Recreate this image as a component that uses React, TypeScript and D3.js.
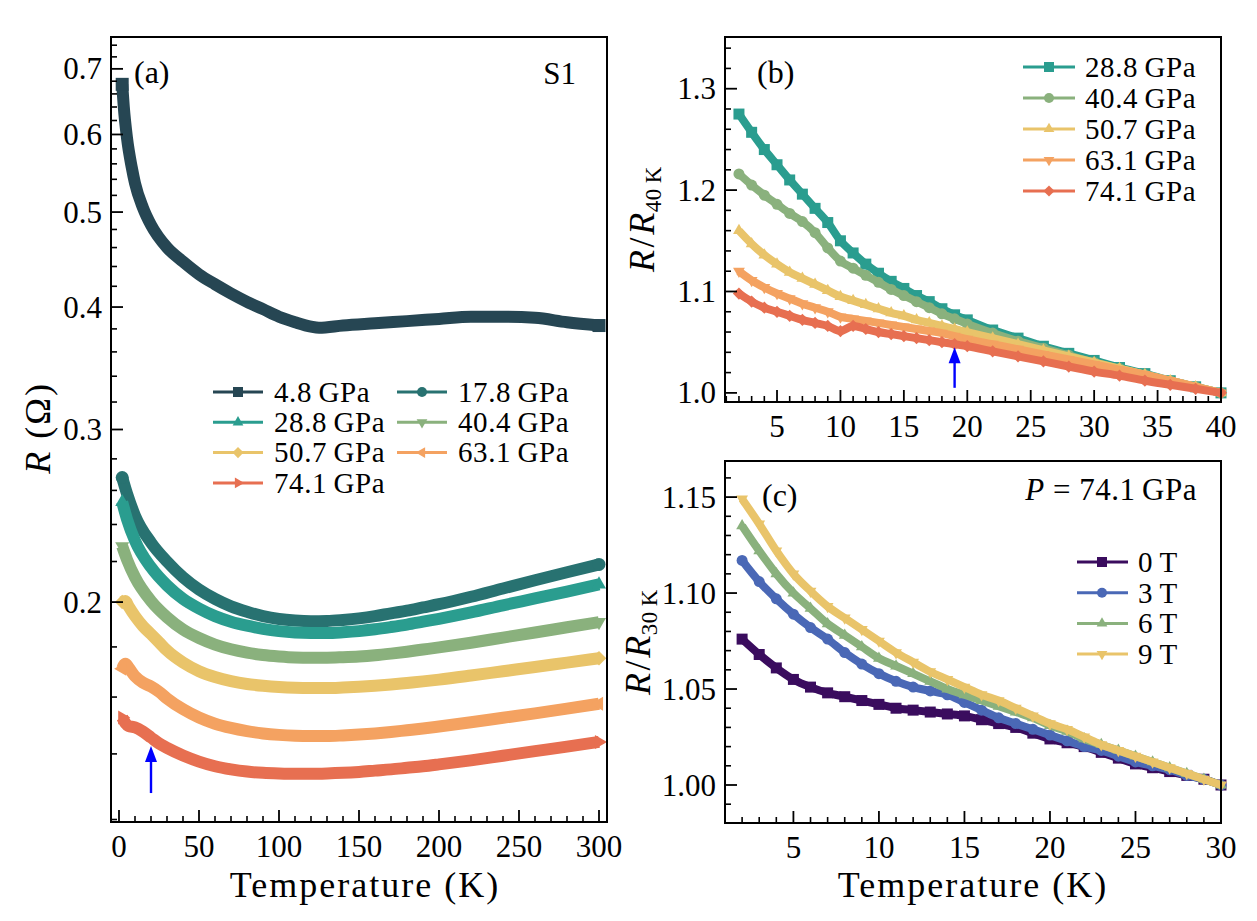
import React from "react";
import * as d3 from "d3";

// ---------- DATA ----------
// Panel (a): R (Ohm) vs T (K)
const tA1 = [2, 3, 5, 8, 10, 15, 20, 30, 40, 50, 60, 70, 80, 90, 100, 110, 120, 125, 140, 160, 180, 200, 220, 240, 260, 280, 300];
const r48 = [0.675, 0.64, 0.595, 0.555, 0.535, 0.505, 0.485, 0.46, 0.445, 0.432, 0.422, 0.413, 0.405, 0.398, 0.391, 0.386, 0.382, 0.381, 0.383, 0.385, 0.387, 0.389, 0.391, 0.391, 0.39, 0.386, 0.383];
const tA2 = [2, 5, 10, 20, 30, 40, 50, 60, 70, 80, 90, 100, 110, 120, 130, 140, 150, 160, 170, 180, 190, 200, 220, 240, 260, 280, 300];
const r178 = [0.268, 0.258, 0.245, 0.23, 0.22, 0.212, 0.206, 0.2015, 0.198, 0.1955, 0.1935, 0.1922, 0.1915, 0.1912, 0.1913, 0.1918, 0.1925, 0.1935, 0.1948, 0.196, 0.1975, 0.199, 0.2025, 0.2065, 0.2105, 0.2145, 0.2185];
const r288 = [0.253, 0.243, 0.231, 0.217, 0.208, 0.2015, 0.197, 0.1935, 0.191, 0.1892, 0.1878, 0.1868, 0.1862, 0.186, 0.186, 0.1863, 0.1868, 0.1876, 0.1886, 0.1897, 0.191, 0.1923, 0.1952, 0.1985, 0.2017, 0.205, 0.2085];
const r404 = [0.228, 0.221, 0.212, 0.2005, 0.193, 0.1875, 0.1838, 0.181, 0.179, 0.1776, 0.1766, 0.176, 0.1756, 0.1755, 0.1755, 0.1757, 0.176, 0.1765, 0.1772, 0.178, 0.1789, 0.1798, 0.1818, 0.184, 0.1862, 0.1885, 0.1908];
const tA3 = [2, 4, 6, 10, 15, 20, 25, 30, 40, 50, 60, 70, 80, 90, 100, 110, 120, 130, 140, 150, 160, 170, 180, 190, 200, 220, 240, 260, 280, 300];
const r507 = [0.2, 0.2005, 0.198, 0.1935, 0.189, 0.1855, 0.182, 0.1785, 0.1735, 0.17, 0.1677, 0.1661, 0.165, 0.1643, 0.1638, 0.1635, 0.1634, 0.1634, 0.1636, 0.1639, 0.1643, 0.1648, 0.1654, 0.166, 0.1667, 0.1683, 0.17, 0.1717, 0.1735, 0.1753];
const r631 = [0.171, 0.173, 0.1715, 0.168, 0.1655, 0.164, 0.162, 0.1595, 0.1555, 0.1525, 0.1503, 0.1488, 0.1477, 0.1469, 0.1464, 0.1461, 0.146, 0.146, 0.1462, 0.1465, 0.1469, 0.1474, 0.148, 0.1486, 0.1493, 0.1508, 0.1524, 0.154, 0.1557, 0.1575];
const r741 = [0.1525, 0.1505, 0.1495, 0.149, 0.1475, 0.1455, 0.1435, 0.142, 0.1395, 0.1375, 0.136, 0.135, 0.1343, 0.1339, 0.1337, 0.1336, 0.1336, 0.1337, 0.1339, 0.1342, 0.1346, 0.135, 0.1355, 0.136, 0.1366, 0.1379, 0.1394, 0.1409, 0.1424, 0.144];

// Panel (b): R/R40K
const tB = [2, 3, 4, 5, 6, 7, 8, 9, 10, 11, 12, 13, 14, 15, 16, 17, 18, 19, 20, 22, 24, 26, 28, 30, 32, 34, 36, 38, 40];
const b288 = [1.275, 1.257, 1.24, 1.225, 1.21, 1.196, 1.182, 1.168, 1.15, 1.138, 1.127, 1.118, 1.11, 1.103, 1.096, 1.09, 1.083, 1.077, 1.072, 1.062, 1.054, 1.046, 1.039, 1.032, 1.025, 1.019, 1.012, 1.006, 1.0];
const b404 = [1.216, 1.205, 1.195, 1.186, 1.177, 1.169, 1.158, 1.143, 1.13, 1.123, 1.116, 1.109, 1.102, 1.096, 1.09, 1.084, 1.078, 1.073, 1.068, 1.059, 1.051, 1.044, 1.037, 1.03, 1.024, 1.018, 1.012, 1.006, 1.0];
const b507 = [1.16, 1.147, 1.136, 1.127, 1.119, 1.113, 1.107, 1.101, 1.095, 1.091, 1.087, 1.083, 1.079, 1.076, 1.072, 1.069, 1.066, 1.063, 1.06, 1.054, 1.048, 1.042, 1.036, 1.03, 1.024, 1.018, 1.012, 1.006, 1.0];
const b631 = [1.12, 1.111, 1.104, 1.098, 1.093, 1.088, 1.084, 1.08, 1.075, 1.073, 1.071, 1.069, 1.067, 1.065, 1.063, 1.061, 1.059, 1.056, 1.053, 1.048, 1.043, 1.038, 1.033, 1.028, 1.023, 1.018, 1.012, 1.006, 1.0];
const b741 = [1.098, 1.09, 1.084, 1.08, 1.076, 1.072, 1.069, 1.066, 1.061, 1.066, 1.063, 1.06, 1.058, 1.056, 1.054, 1.052, 1.05, 1.048, 1.046, 1.041, 1.036, 1.031, 1.026, 1.021, 1.017, 1.012, 1.008, 1.004, 1.0];

// Panel (c): R/R30K at 74.1 GPa
const tC = [2, 3, 4, 5, 6, 7, 8, 9, 10, 11, 12, 13, 14, 15, 16, 17, 18, 19, 20, 21, 22, 23, 24, 25, 26, 27, 28, 29, 30];
const c0 = [1.076, 1.068, 1.061, 1.055, 1.051, 1.048, 1.046, 1.044, 1.042, 1.04, 1.039, 1.038, 1.037, 1.036, 1.034, 1.032, 1.03, 1.027, 1.024, 1.022, 1.02, 1.017, 1.014, 1.011, 1.009, 1.007, 1.005, 1.003, 1.0];
const c3 = [1.117, 1.106, 1.097, 1.089, 1.082, 1.076, 1.069, 1.063, 1.058, 1.054, 1.051, 1.049, 1.047, 1.043, 1.039, 1.035, 1.032, 1.029, 1.026, 1.023, 1.02, 1.018, 1.015, 1.012, 1.01, 1.008, 1.005, 1.003, 1.0];
const c6 = [1.135, 1.122, 1.11, 1.1, 1.092, 1.084, 1.078, 1.072, 1.066, 1.062, 1.058, 1.054, 1.05, 1.047, 1.044, 1.041, 1.038, 1.035, 1.031, 1.028, 1.024, 1.021, 1.018, 1.015, 1.012, 1.009, 1.006, 1.003, 1.0];
const c9 = [1.149, 1.136, 1.122, 1.11, 1.101, 1.093, 1.087, 1.081, 1.075, 1.069, 1.064, 1.059, 1.055, 1.051, 1.047, 1.044, 1.04, 1.036, 1.032, 1.029, 1.025, 1.021, 1.018, 1.015, 1.012, 1.009, 1.006, 1.003, 1.0];

const labelsA = ["4.8", "17.8", "28.8", "40.4", "50.7", "63.1", "74.1"];
const labelsB = ["28.8", "40.4", "50.7", "63.1", "74.1"];
const labelsC = ["0", "3", "6", "9"];

const xTicksA = [0, 50, 100, 150, 200, 250, 300];
const yTicksA = [0.2, 0.3, 0.4, 0.5, 0.6, 0.7];
const xTicksB = [5, 10, 15, 20, 25, 30, 35, 40];
const yTicksB = [1.0, 1.1, 1.2, 1.3];
const xTicksC = [5, 10, 15, 20, 25, 30];
const yTicksC = [1.0, 1.05, 1.1, 1.15];

// ---------- STYLE ----------
const FONT = "'Liberation Serif','Times New Roman',serif";
const TICK_FS = 31;
const LAB_FS = 36;
const LEG_FS = 29;
const C = {
  p48: "#264653", p178: "#287271", p288: "#2a9d8f", p404: "#8ab17d",
  p507: "#e9c46a", p631: "#f4a261", p741: "#e76f51",
  t0: "#3a0c5e", t3: "#4a68b6",
};

type Mk = "square" | "circle" | "triUp" | "triDown" | "diamond" | "triLeft" | "triRight";

function markerPath(kind: Mk, s: number): [string, number] {
  switch (kind) {
    case "square": return [d3.symbol(d3.symbolSquare, s * s)()!, 0];
    case "circle": return [d3.symbol(d3.symbolCircle, Math.PI * (s / 2) * (s / 2))()!, 0];
    case "diamond": return [d3.symbol(d3.symbolSquare, s * s * 0.62)()!, 45];
    case "triUp": return [d3.symbol(d3.symbolTriangle, s * s * 0.5)()!, 0];
    case "triDown": return [d3.symbol(d3.symbolTriangle, s * s * 0.5)()!, 180];
    case "triLeft": return [d3.symbol(d3.symbolTriangle, s * s * 0.5)()!, -90];
    case "triRight": return [d3.symbol(d3.symbolTriangle, s * s * 0.5)()!, 90];
  }
}

function Marker({ kind, x, y, s, color }: { kind: Mk; x: number; y: number; s: number; color: string }) {
  const [d, rot] = markerPath(kind, s);
  return <path d={d} transform={`translate(${x},${y}) rotate(${rot})`} fill={color} stroke="none" />;
}

function range(a: number, b: number, step: number) {
  const out: number[] = [];
  for (let v = a; v <= b + 1e-9; v += step) out.push(Math.round(v * 1000) / 1000);
  return out;
}

function Axes({ x, y, xMajor, xMinor, yMajor, yMinor, yFmt }: any) {
  const [l, r] = x.range();
  const [b, t] = y.range();
  const MAJ = 12, MIN = 6;
  return (
    <g>
      <rect x={l} y={t} width={r - l} height={b - t} fill="none" stroke="#000" strokeWidth={2} />
      {xMinor.map((v: number, i: number) => (
        <line key={"xm" + i} x1={x(v)} x2={x(v)} y1={b} y2={b - MIN} stroke="#000" strokeWidth={1.6} />
      ))}
      {xMajor.map((v: number, i: number) => (
        <g key={"xM" + i}>
          <line x1={x(v)} x2={x(v)} y1={b} y2={b - MAJ} stroke="#000" strokeWidth={1.8} />
          <text x={x(v)} y={b + 35} textAnchor="middle" fontSize={TICK_FS} fontFamily={FONT}>{v}</text>
        </g>
      ))}
      {yMinor.map((v: number, i: number) => (
        <line key={"ym" + i} x1={l} x2={l + MIN} y1={y(v)} y2={y(v)} stroke="#000" strokeWidth={1.6} />
      ))}
      {yMajor.map((v: number, i: number) => (
        <g key={"yM" + i}>
          <line x1={l} x2={l + MAJ} y1={y(v)} y2={y(v)} stroke="#000" strokeWidth={1.8} />
          <text x={l - 9} y={y(v)} dy="0.34em" textAnchor="end" fontSize={TICK_FS} fontFamily={FONT}>{yFmt(v)}</text>
        </g>
      ))}
    </g>
  );
}

function Arrow({ x, y1, y2 }: { x: number; y1: number; y2: number }) {
  const hl = 16, hw = 6;
  return (
    <g>
      <line x1={x} x2={x} y1={y1} y2={y2 + hl - 2} stroke="#0000ff" strokeWidth={2.4} />
      <path d={`M${x},${y2} L${x - hw},${y2 + hl} L${x + hw},${y2 + hl} Z`} fill="#0000ff" />
    </g>
  );
}

function RatioLabel({ x, y, sub }: { x: number; y: number; sub: string }) {
  return (
    <text transform={`translate(${x},${y}) rotate(-90)`} textAnchor="middle" fontSize={LAB_FS} fontFamily={FONT} letterSpacing={0.5}>
      <tspan fontStyle="italic">R</tspan>
      <tspan dx={2}>/</tspan>
      <tspan fontStyle="italic" dx={2}>R</tspan>
      <tspan fontSize={23} dy={7}>{sub}{"\u2009"}K</tspan>
    </text>
  );
}

export default function App() {
  // scales
  const xA = d3.scaleLinear().domain([-5, 305]).range([111, 607]);
  const yA = d3.scaleLog().domain([0.1193, 0.7544]).range([822, 37]);
  const xB = d3.scaleLinear().domain([0.9, 40]).range([725, 1221]);
  const yB = d3.scaleLinear().domain([0.991, 1.351]).range([402, 37]);
  const xC = d3.scaleLinear().domain([1, 30]).range([725, 1221]);
  const yC = d3.scaleLinear().domain([0.9802, 1.1688]).range([823, 461]);

  const seriesA = [
    { t: tA1, v: r48, c: C.p48, m: "square" as Mk },
    { t: tA2, v: r178, c: C.p178, m: "circle" as Mk },
    { t: tA2, v: r288, c: C.p288, m: "triUp" as Mk },
    { t: tA2, v: r404, c: C.p404, m: "triDown" as Mk },
    { t: tA3, v: r507, c: C.p507, m: "diamond" as Mk },
    { t: tA3, v: r631, c: C.p631, m: "triLeft" as Mk },
    { t: tA3, v: r741, c: C.p741, m: "triRight" as Mk },
  ];
  const seriesB = [
    { v: b288, c: C.p288, m: "square" as Mk },
    { v: b404, c: C.p404, m: "circle" as Mk },
    { v: b507, c: C.p507, m: "triUp" as Mk },
    { v: b631, c: C.p631, m: "triDown" as Mk },
    { v: b741, c: C.p741, m: "diamond" as Mk },
  ];
  const seriesC = [
    { v: c0, c: C.t0, m: "square" as Mk },
    { v: c3, c: C.t3, m: "circle" as Mk },
    { v: c6, c: C.p404, m: "triUp" as Mk },
    { v: c9, c: C.p507, m: "triDown" as Mk },
  ];

  const lineA = (t: number[], v: number[]) =>
    d3.line<number>().x((_, i) => xA(t[i])).y((d) => yA(d)).curve(d3.curveMonotoneX)(v)!;
  const lineB = d3.line<number>().x((_, i) => xB(tB[i])).y((d) => yB(d)).curve(d3.curveMonotoneX);
  const lineC = d3.line<number>().x((_, i) => xC(tC[i])).y((d) => yC(d)).curve(d3.curveMonotoneX);

  const minorA = range(0.12, 0.74, 0.02).filter((v) => !yTicksA.some((m) => Math.abs(m - v) < 1e-6));
  const minorB = range(1.0, 1.34, 0.02).filter((v) => !yTicksB.some((m) => Math.abs(m - v) < 1e-6));
  const minorC = range(0.99, 1.16, 0.01).filter((v) => !yTicksC.some((m) => Math.abs(m - v) < 1e-6));

  return (
    <div style={{ position: "absolute", left: 0, top: 0 }}>
      <svg width={1257} height={921} xmlns="http://www.w3.org/2000/svg" style={{ display: "block", background: "#fff" }}>
        <rect width={1257} height={921} fill="#fff" />

        {/* ---------- Panel (a) ---------- */}
        <g>
          {seriesA.map((s, i) => (
            <g key={i}>
              <path d={lineA(s.t, s.v)} fill="none" stroke={s.c} strokeWidth={12} strokeLinejoin="round" />
              <Marker kind={s.m} x={xA(s.t[0])} y={yA(s.v[0])} s={13} color={s.c} />
              <Marker kind={s.m} x={xA(s.t[s.t.length - 1])} y={yA(s.v[s.v.length - 1])} s={13} color={s.c} />
            </g>
          ))}
          <Axes x={xA} y={yA} xMajor={xTicksA} xMinor={range(10, 300, 10).filter((v) => v % 50 !== 0)}
            yMajor={yTicksA} yMinor={minorA} yFmt={(v: number) => v.toFixed(1)} />
          <Arrow x={xA(20)} y1={yA(0.1277)} y2={yA(0.1426)} />
          <text x={134} y={83} fontSize={32} fontFamily={FONT}>(a)</text>
          <text x={576} y={84} fontSize={31} fontFamily={FONT} textAnchor="end">S1</text>
          {/* legend */}
          {seriesA.map((s, i) => {
            const col = i % 2, row = Math.floor(i / 2);
            const x0 = col === 0 ? 213 : 397;
            const yy = 392 + row * 30.3;
            return (
              <g key={"la" + i}>
                <line x1={x0} x2={x0 + 50} y1={yy} y2={yy} stroke={s.c} strokeWidth={3} />
                <Marker kind={s.m} x={x0 + 25} y={yy} s={10} color={s.c} />
                <text x={x0 + 61} y={yy} dy="0.34em" fontSize={LEG_FS} fontFamily={FONT} letterSpacing={0.6}>{labelsA[i]}{"\u2009"}GPa</text>
              </g>
            );
          })}
          <text x={365} y={897} textAnchor="middle" fontSize={LAB_FS} fontFamily={FONT} letterSpacing={2}>Temperature (K)</text>
          <text transform="translate(50,428) rotate(-90)" textAnchor="middle" fontSize={LAB_FS} fontFamily={FONT} letterSpacing={2}>
            <tspan fontStyle="italic">R</tspan> (Ω)
          </text>
        </g>

        {/* ---------- Panel (b) ---------- */}
        <g>
          {seriesB.map((s, i) => (
            <g key={i}>
              <path d={lineB(s.v)!} fill="none" stroke={s.c} strokeWidth={8} strokeLinejoin="round" />
              {s.v.map((v, j) => (
                <Marker key={j} kind={s.m} x={xB(tB[j])} y={yB(v)} s={11} color={s.c} />
              ))}
            </g>
          ))}
          <Axes x={xB} y={yB} xMajor={xTicksB} xMinor={range(1, 40, 1).filter((v) => v % 5 !== 0)}
            yMajor={yTicksB} yMinor={minorB} yFmt={(v: number) => v.toFixed(1)} />
          <Arrow x={xB(19)} y1={yB(1.005)} y2={yB(1.045)} />
          <text x={757} y={83} fontSize={32} fontFamily={FONT}>(b)</text>
          {seriesB.map((s, i) => {
            const yy = 67 + i * 31;
            return (
              <g key={"lb" + i}>
                <line x1={1023} x2={1075} y1={yy} y2={yy} stroke={s.c} strokeWidth={3} />
                <Marker kind={s.m} x={1049} y={yy} s={10} color={s.c} />
                <text x={1085} y={yy} dy="0.34em" fontSize={LEG_FS} fontFamily={FONT} letterSpacing={0.6}>{labelsB[i]}{"\u2009"}GPa</text>
              </g>
            );
          })}
          <RatioLabel x={654} y={219} sub="40" />
        </g>

        {/* ---------- Panel (c) ---------- */}
        <g>
          {seriesC.map((s, i) => (
            <g key={i}>
              <path d={lineC(s.v)!} fill="none" stroke={s.c} strokeWidth={8} strokeLinejoin="round" />
              {s.v.map((v, j) => (
                <Marker key={j} kind={s.m} x={xC(tC[j])} y={yC(v)} s={11} color={s.c} />
              ))}
            </g>
          ))}
          <Axes x={xC} y={yC} xMajor={xTicksC} xMinor={range(2, 29, 1).filter((v) => v % 5 !== 0)}
            yMajor={yTicksC} yMinor={minorC} yFmt={(v: number) => v.toFixed(2)} />
          <text x={762} y={506} fontSize={32} fontFamily={FONT}>(c)</text>
          <text x={1197} y={500} fontSize={31} fontFamily={FONT} textAnchor="end" letterSpacing={0.5}>
            <tspan fontStyle="italic">P</tspan> = 74.1{"\u2009"}GPa
          </text>
          {seriesC.map((s, i) => {
            const yy = 562 + i * 30.7;
            return (
              <g key={"lc" + i}>
                <line x1={1077} x2={1128} y1={yy} y2={yy} stroke={s.c} strokeWidth={3} />
                <Marker kind={s.m} x={1102} y={yy} s={10} color={s.c} />
                <text x={1138} y={yy} dy="0.34em" fontSize={LEG_FS} fontFamily={FONT} letterSpacing={0.6}>{labelsC[i]}{"\u2009"}T</text>
              </g>
            );
          })}
          <text x={973} y={897} textAnchor="middle" fontSize={LAB_FS} fontFamily={FONT} letterSpacing={2}>Temperature (K)</text>
          <RatioLabel x={650} y={642} sub="30" />
        </g>
      </svg>
    </div>
  );
}
